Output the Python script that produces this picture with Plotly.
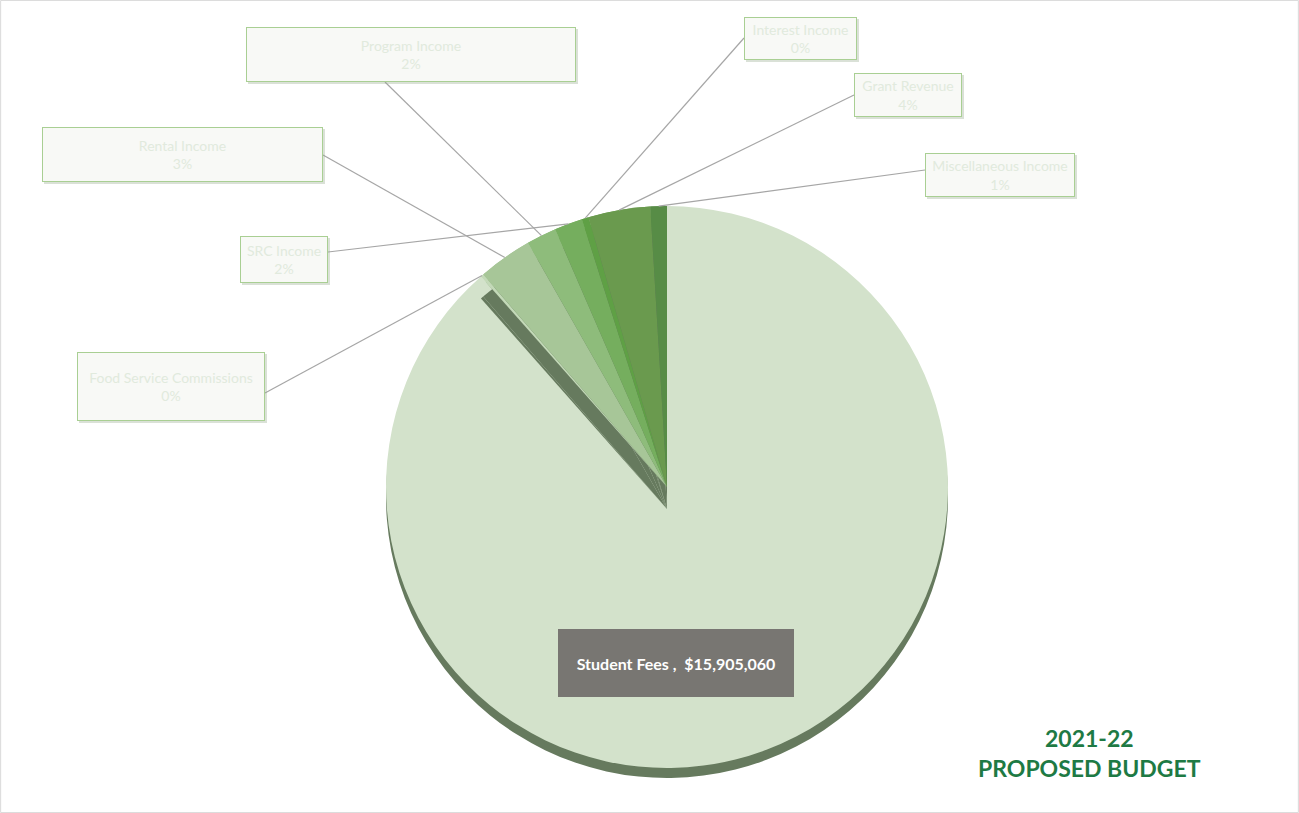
import plotly.graph_objects as go
import math

# ---- data ----
categories = [
    "Student Fees",
    "Food Service Commissions",
    "Rental Income",
    "Program Income",
    "SRC Income",
    "Interest Income",
    "Grant Revenue",
    "Miscellaneous Income",
]
amounts = [15905060, 30000, 560000, 310000, 290000, 70000, 640000, 170000]

slice_colors = ["#d3e2cb", "#c3d9b8", "#a7c698", "#8ebc7b", "#75ae5e",
                "#5fa045", "#6a9a4e", "#578c46"]

# ---- canvas / pie geometry (pixels) ----
W, H = 1299, 813
CX, CY, R = 667, 487, 281
RIM = 10           # thickness of the pseudo-3D rim
CUT = 22           # drop of the exposed cut face of the large slice
SIDE = "#667a5e"   # side-face colour
CLEAR = "rgba(0,0,0,0)"

# label boxes: (x0, y0, x1, y1) and leader-line anchor (px)
label_boxes = {
    "Food Service Commissions": ((77, 352, 265, 421), (265, 393)),
    "Rental Income": ((42, 127, 323, 182), (323, 155)),
    "Program Income": ((246, 27, 576, 82), (385, 82)),
    "SRC Income": ((240, 236, 328, 283), (328, 252)),
    "Interest Income": ((744, 17, 857, 60), (744, 38)),
    "Grant Revenue": ((854, 73, 962, 117), (854, 95)),
    "Miscellaneous Income": ((925, 153, 1075, 197), (925, 170)),
}


def px(x):
    return x / W


def py(y):
    return 1 - y / H


def domain(cx, cy, r):
    return dict(x=[px(cx - r), px(cx + r)], y=[py(cy + r), py(cy - r)])


def pie(colors, dy=0):
    return go.Pie(
        labels=categories, values=amounts, sort=False, direction="clockwise",
        rotation=0, textinfo="none", hoverinfo="skip", showlegend=False,
        marker=dict(colors=colors, line=dict(width=0)),
        domain=domain(CX, CY + dy, R),
    )


n_small = len(categories) - 1
fig = go.Figure()
# rim below the disc
fig.add_trace(pie([SIDE] * len(categories), RIM))
# top faces of all slices
fig.add_trace(pie(slice_colors))
# exposed side face of the large slice along its cut edge
fig.add_trace(pie([CLEAR] + [SIDE] * n_small, CUT))
# top faces of the small slices again
fig.add_trace(pie([CLEAR] + slice_colors[1:]))

total = sum(amounts)
shapes = []
annotations = []

# leader lines + label boxes for the small slices
cum = 0.0
for name, val in zip(categories, amounts):
    frac = val / total
    mid = (cum + frac / 2) * 2 * math.pi
    cum += frac
    if name not in label_boxes:
        continue
    (x0, y0, x1, y1), (axp, ayp) = label_boxes[name]
    ex = CX + R * math.sin(mid)
    ey = CY - R * math.cos(mid)
    shapes.append(dict(type="line", xref="paper", yref="paper",
                       x0=px(axp), y0=py(ayp), x1=px(ex), y1=py(ey),
                       line=dict(color="#a6a6a6", width=1.2), layer="above"))
    # soft drop shadow under the box
    shapes.append(dict(type="rect", xref="paper", yref="paper",
                       x0=px(x0 + 2), y0=py(y1 + 2), x1=px(x1 + 2), y1=py(y0 + 2),
                       fillcolor="rgba(150,170,140,0.35)", line=dict(width=0),
                       layer="above"))
    pct = round(frac * 100)
    annotations.append(dict(
        xref="paper", yref="paper", x=px((x0 + x1) / 2), y=py((y0 + y1) / 2),
        xanchor="center", yanchor="middle", showarrow=False,
        text=f"{name}<br>{pct}%", align="center", valign="middle",
        width=(x1 - x0) - 4, height=(y1 - y0) - 4,
        bgcolor="#f8f9f6", bordercolor="#a9cf93", borderwidth=1, borderpad=1,
        font=dict(family="Lato, 'Open Sans', sans-serif", size=14, color="#e1eadd"),
    ))

# data label of the main slice
annotations.append(dict(
    xref="paper", yref="paper", x=px(676), y=py(663),
    xanchor="center", yanchor="middle", showarrow=False,
    text=f"<b>{categories[0]} ,  ${amounts[0]:,}</b>",
    width=232, height=64, bgcolor="#787672", borderpad=1, borderwidth=1,
    bordercolor="#787672",
    font=dict(family="Lato, 'Open Sans', sans-serif", size=16, color="#ffffff"),
))

# title block
annotations.append(dict(
    xref="paper", yref="paper", x=px(1089), y=py(753),
    xanchor="center", yanchor="middle", showarrow=False,
    text="<b>2021-22</b><br><b>PROPOSED BUDGET</b>",
    font=dict(family="Lato, 'Open Sans', sans-serif", size=23, color="#1e7a44"),
))

# outer frame
shapes.append(dict(type="rect", xref="paper", yref="paper", x0=0.0005, y0=0.0005,
                   x1=0.9995, y1=0.9995, line=dict(color="#d9d9d9", width=1),
                   layer="below"))

fig.update_layout(
    width=W, height=H, margin=dict(l=0, r=0, t=0, b=0),
    paper_bgcolor="#ffffff", plot_bgcolor="#ffffff",
    shapes=shapes, annotations=annotations,
)

fig.write_html("out.html", config={"displayModeBar": False})
